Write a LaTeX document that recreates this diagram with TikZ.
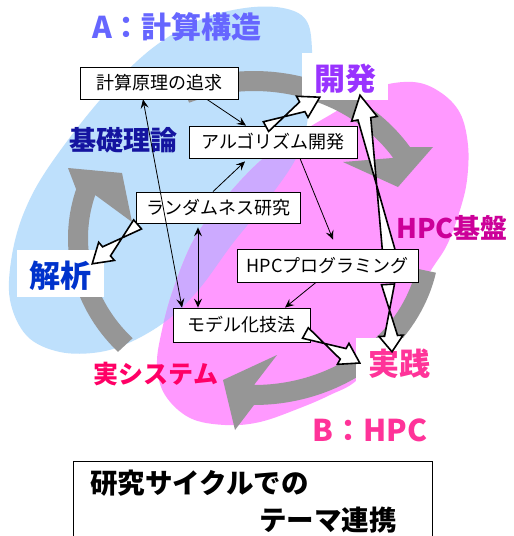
\documentclass[tikz,border=0pt]{standalone}
\usepackage{fontspec}
\newfontfamily\jp{Noto Sans CJK JP}
\usetikzlibrary{arrows.meta,calc}
\definecolor{bluebg}{RGB}{190,224,252}
\definecolor{magbg}{RGB}{255,153,255}
\definecolor{ovl}{RGB}{204,170,255}
\definecolor{ringgray}{RGB}{150,150,150}
\definecolor{cA}{RGB}{102,102,255}
\definecolor{cKiso}{RGB}{20,20,160}
\definecolor{cKai}{RGB}{0,51,204}
\definecolor{cDev}{RGB}{153,51,255}
\definecolor{cHpcb}{RGB}{204,0,153}
\definecolor{cJis}{RGB}{255,51,153}
\definecolor{cJsys}{RGB}{255,0,102}
% hollow block arrow: #1 from, #2 to, #3 shaft half width, #4 head half width, #5 head length
\newcommand\hollowarr[5]{%
  \coordinate (hbase) at ($(#2)!#5!(#1)$);
  \draw[hollow] ($(#1)!#3!90:(#2)$) -- ($(hbase)!#3!-90:(#2)$) -- ($(hbase)!#4!-90:(#2)$)
     -- (#2) -- ($(hbase)!#4!90:(#2)$) -- ($(hbase)!#3!90:(#2)$) -- ($(#1)!#3!-90:(#2)$) -- cycle;
}
\begin{document}
\begin{tikzpicture}[x=1pt,y=-1pt,
  box/.style={draw=black, line width=0.8pt, fill=white, inner sep=0pt, font=\jp\fontsize{18}{20}\selectfont},
  wbox/.style={fill=white, inner sep=0pt},
  conn/.style={line width=0.8pt, -{Stealth[length=9pt,width=8pt,inset=3.5pt]}},
  conntwo/.style={line width=0.8pt, {Stealth[length=9pt,width=8pt,inset=3.5pt]}-{Stealth[length=9pt,width=8pt,inset=3.5pt]}},
  hollow/.style={draw=black, line width=1.6pt, fill=white, line join=miter},
  ringfill/.style={fill=ringgray},
  lbl/.style={inner sep=0pt, font=\jp\bfseries\fontsize{#1}{#1}\selectfont},
  lbl/.default=30
]
\useasboundingbox (0,0) rectangle (514,536);
\fill[white] (0,0) rectangle (514,536);

% background shapes
\fill[bluebg] plot[smooth cycle, tension=0.6] coordinates {(283,8) (306,20) (312,50) (310,100) (300,150) (270,197) (233,243) (200,288) (170,318) (135,340) (100,352) (60,352) (27,336) (10,300) (12,255) (25,210) (50,165) (100,100) (150,50) (200,20) (245,8)};
\fill[magbg] plot[smooth cycle, tension=0.6] coordinates {(413,82) (440,92) (460,113) (468,145) (467,180) (460,210) (447,245) (430,272) (410,310) (385,345) (357,380) (330,395) (300,408) (260,422) (225,425) (190,418) (165,395) (157,365) (162,330) (173,290) (192,243) (215,210) (258,163) (300,133) (335,112) (375,88)};
\begin{scope}
\clip plot[smooth cycle, tension=0.6] coordinates {(283,8) (306,20) (312,50) (310,100) (300,150) (270,197) (233,243) (200,288) (170,318) (135,340) (100,352) (60,352) (27,336) (10,300) (12,255) (25,210) (50,165) (100,100) (150,50) (200,20) (245,8)};
\fill[ovl] plot[smooth cycle, tension=0.6] coordinates {(413,82) (440,92) (460,113) (468,145) (467,180) (460,210) (447,245) (430,272) (410,310) (385,345) (357,380) (330,395) (300,408) (260,422) (225,425) (190,418) (165,395) (157,365) (162,330) (173,290) (192,243) (215,210) (258,163) (300,133) (335,112) (375,88)};
\end{scope}

% gray cycle arrows
\fill[ringfill] plot[domain=-113:-33,samples=40] ({254+186*cos(\x)},{238+167*sin(\x)})
  -- (433,147) -- (398,187) -- (343,162)
  -- plot[domain=-33:-113,samples=40] ({254+166*cos(\x)},{238+147*sin(\x)}) -- cycle;
\fill[ringfill] plot[domain=12:90,samples=40] ({254+186*cos(\x)},{238+167*sin(\x)})
  -- (235,430) -- (223,380) -- (277,355)
  -- plot[domain=90:12,samples=40] ({254+166*cos(\x)},{238+147*sin(\x)}) -- cycle;
\fill[ringfill] plot[domain=137:197,samples=40] ({254+186*cos(\x)},{238+167*sin(\x)})
  -- (68,168) -- (122,173) -- (132,222)
  -- plot[domain=197:137,samples=40] ({254+166*cos(\x)},{238+147*sin(\x)}) -- cycle;

% titles
\node[lbl, text=cA] (tA) at (177,27) {A：計算構造};
\node[lbl=27, text=cKiso] (kiso) at (123,140) {基礎理論};
\node[lbl=27, text=cHpcb] (hpcb) at (452,228) {HPC基盤};
\node[lbl=25, text=cJsys] (jsys) at (156,374) {実システム};
\node[lbl, text=cJis] (tB) at (370,430) {B：HPC};

% white label boxes
\node[wbox, minimum width=86pt, minimum height=47pt] (kai) at (345,76.5) {};
\node[lbl=31, text=cDev] (kait) at (345,78.5) {開発};
\node[wbox, minimum width=87pt, minimum height=47pt] (kas) at (60.5,273.5) {};
\node[lbl=31, text=cKai] (kast) at (60.5,276) {解析};
\node[wbox, minimum width=82pt, minimum height=46pt] (jis) at (397,361) {};
\node[lbl=31, text=cJis] (jist) at (399,364) {実践};

% hollow arrow under HPC box
\coordinate (h1) at (389,252);
\coordinate (h2) at ([xshift=15pt,yshift=5pt]kai.south);
\hollowarr{h1}{h2}{6.5pt}{13pt}{24pt}

% text boxes
\node[box, minimum width=158pt, minimum height=32pt] (gen) at (159,83) {計算原理の追求};
\node[box, minimum width=168pt, minimum height=32pt] (alg) at (273,142) {アルゴリズム開発};
\node[box, minimum width=164pt, minimum height=31pt] (rand) at (218,207.5) {ランダムネス研究};
\node[box, minimum width=181pt, minimum height=33pt] (hpc) at (327.5,265.5) {HPCプログラミング};
\node[box, minimum width=137pt, minimum height=34pt] (model) at (241.5,325) {モデル化技法};

% thin connectors
\draw[conn] ([xshift=48pt]gen.south) -- ([xshift=-27pt]alg.north);
\draw[conn] ([xshift=-5pt]rand.north) -- ([xshift=-28pt,yshift=-3pt]alg.south);
\draw[conn] ([xshift=27pt]alg.south) -- ([xshift=5.5pt,yshift=9pt]hpc.north);
\draw[conn] ([xshift=-11.5pt]hpc.south) -- ([xshift=43.5pt]model.north);
\draw[conntwo] ([xshift=-16pt]gen.south) -- ([xshift=-59.5pt]model.north);
\draw[conntwo] ([xshift=-20pt,yshift=-4pt]rand.south) -- ([xshift=-43.5pt]model.north);

% hollow arrows
\coordinate (g1) at ([xshift=-7pt,yshift=-1pt]alg.north);
\coordinate (g2) at ([xshift=18pt,yshift=3pt]kai.south west);
\hollowarr{g1}{g2}{5.5pt}{12pt}{20pt}
\coordinate (i1) at ([xshift=60.5pt,yshift=-2pt]hpc.south);
\coordinate (i2) at ([xshift=-5pt,yshift=-14pt]jis.north);
\hollowarr{i1}{i2}{6.5pt}{12pt}{16pt}
\coordinate (j1) at ([xshift=-5pt,yshift=-8pt]model.east);
\coordinate (j2) at ([xshift=4pt,yshift=-2pt]jis.west);
\hollowarr{j1}{j2}{6pt}{12pt}{19pt}
\coordinate (k1) at ([xshift=2pt,yshift=-1pt]rand.south west);
\coordinate (k2) at ([xshift=-12pt,yshift=-14pt]kas.north east);
\hollowarr{k1}{k2}{6pt}{12pt}{19pt}

% caption box
\node[draw, line width=1.3pt, minimum width=359pt, minimum height=84pt, anchor=north west, inner sep=0pt] (cap) at (73,461) {};
\node[lbl=27.5, anchor=west] (cap1) at (90,483) {研究サイクルでの};
\node[lbl=27.5, anchor=west] (cap2) at (259,520) {テーマ連携};
\end{tikzpicture}
\end{document}
